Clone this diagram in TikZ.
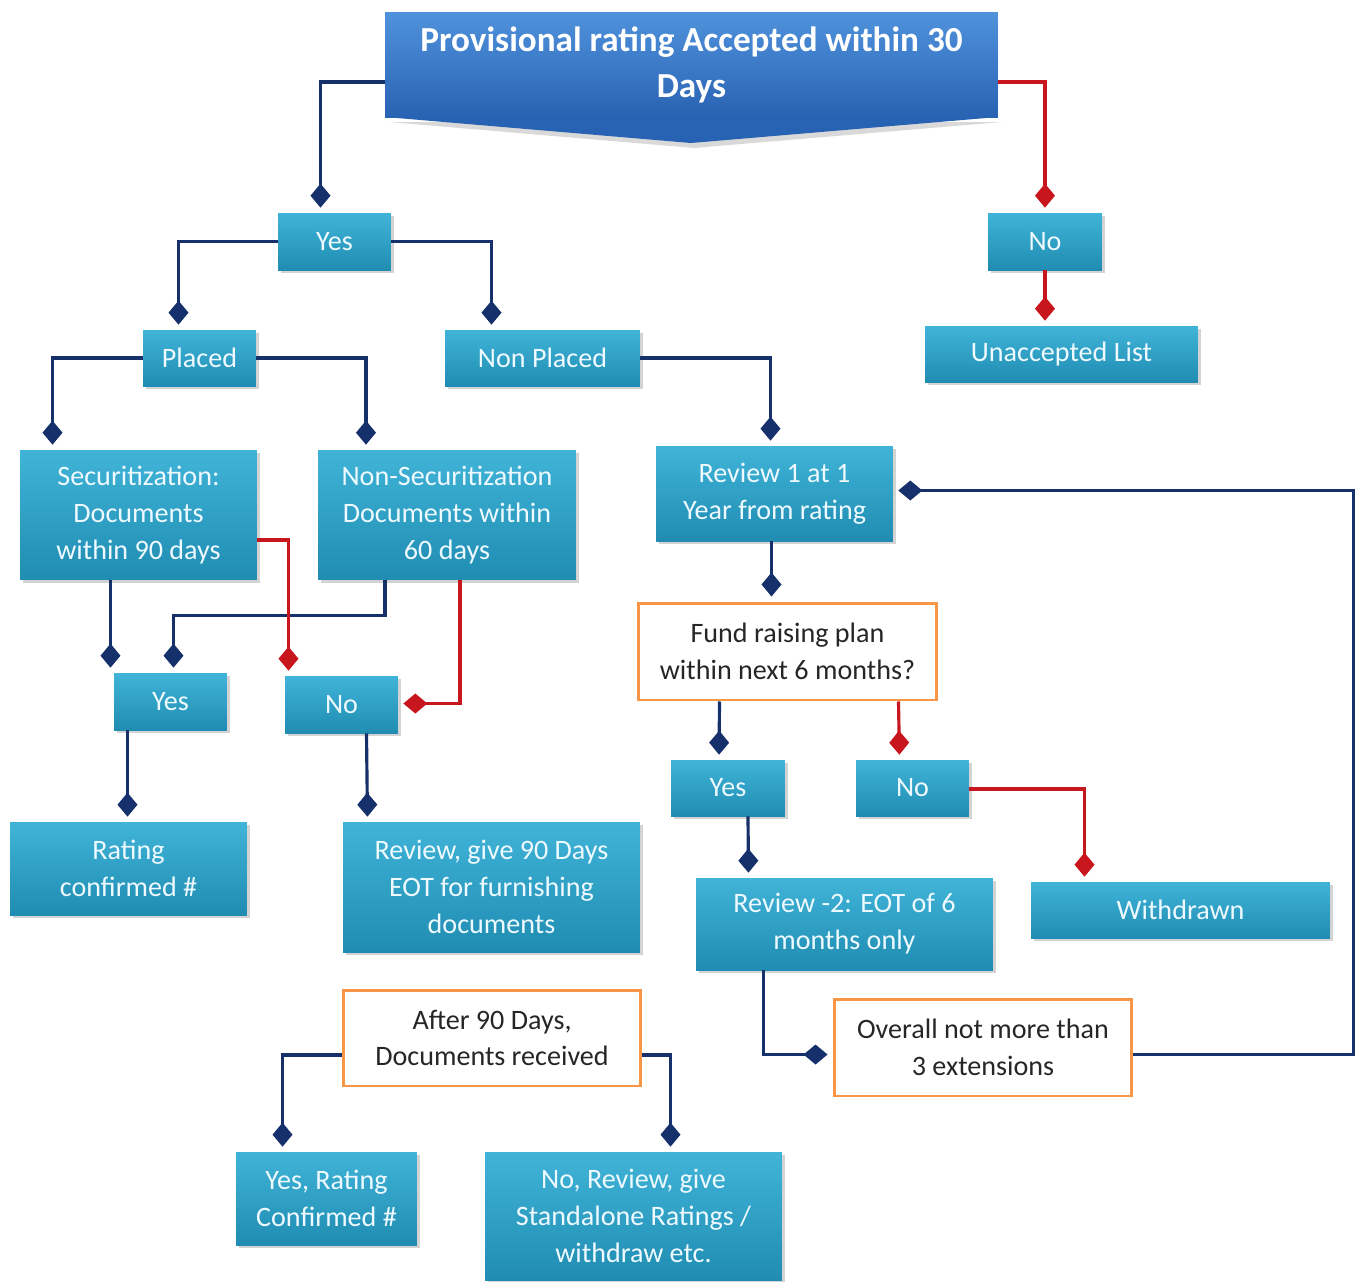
\documentclass[tikz,border=0pt]{standalone}
\usepackage{fontspec}
\setmainfont{Carlito}
\usetikzlibrary{calc, arrows.meta, shadows}

\definecolor{tealtop}{RGB}{64,180,216}
\definecolor{tealbot}{RGB}{32,140,178}
\definecolor{titletop}{RGB}{80,146,220}
\definecolor{titlebot}{RGB}{40,98,178}
\definecolor{navyline}{RGB}{22,48,108}
\definecolor{redline}{RGB}{200,22,30}
\definecolor{boxorange}{RGB}{247,150,70}
\definecolor{boxtext}{RGB}{238,250,255}

\begin{document}
\begin{tikzpicture}[
    x=0.02cm, y=-0.02cm,
    % Estilos de nodos
    step box/.style={rectangle, inner sep=0pt, align=center, text=boxtext,
        shading=axis, top color=tealtop, bottom color=tealbot,
        drop shadow={shadow xshift=0.06cm, shadow yshift=-0.06cm, opacity=0.35},
        font=\fontsize{16}{21}\selectfont},
    question box/.style={rectangle, inner sep=0pt, align=center, fill=white,
        draw=boxorange, line width=1.7pt, text=black!85,
        font=\fontsize{16}{21}\selectfont},
    title box/.style={rectangle, inner sep=0pt, align=center, text=white,
        shading=axis, top color=titletop, bottom color=titlebot,
        font=\fontsize{20}{26}\selectfont\bfseries},
    % Estilos de conectores
    navy link/.style={line width=1.8pt, navyline,
        -{Turned Square[length=0.48cm, width=0.4cm]}, shorten >=0.1cm},
    red link/.style={line width=1.8pt, redline,
        -{Turned Square[length=0.48cm, width=0.4cm]}, shorten >=0.1cm}
]
    \useasboundingbox (0,0) rectangle (1360,1282);

    % =========================================================================
    % 1. Titulo
    % =========================================================================
    \fill[black, opacity=0.15] (389,122) -- (694,148) -- (1002,122) -- cycle;
    \fill[titlebot] (385,117) -- (691,143) -- (998,117) -- cycle;
    \node[title box, minimum width=12.26cm, minimum height=2.12cm] (title) at (691.5,65)
        {Provisional rating Accepted within 30\\Days};

    % =========================================================================
    % 2. Nodos
    % =========================================================================
    \node[step box, minimum width=2.26cm, minimum height=1.14cm] (yes1) at (334.5,241.5) {Yes};
    \node[step box, minimum width=2.28cm, minimum height=1.14cm] (no1) at (1045,241.5) {No};
    \node[step box, minimum width=5.46cm, minimum height=1.12cm] (unacc) at (1061.5,354) {Unaccepted List};

    \node[step box, minimum width=2.26cm, minimum height=1.12cm] (placed) at (199.5,358) {Placed};
    \node[step box, minimum width=3.9cm, minimum height=1.12cm] (nonpl) at (542.5,358) {Non Placed};

    \node[step box, minimum width=4.74cm, minimum height=2.6cm] (secur) at (138.5,515)
        {Securitization:\\Documents\\within 90 days};
    \node[step box, minimum width=5.16cm, minimum height=2.6cm] (nonsec) at (447,515)
        {Non-Securitization\\Documents within\\60 days};
    \node[step box, minimum width=4.74cm, minimum height=1.9cm] (rev1) at (774.5,493.5)
        {Review 1 at 1\\Year from rating};

    \node[question box, minimum width=5.98cm, minimum height=1.94cm] (fund) at (787.5,651.5)
        {Fund raising plan\\within next 6 months?};
    \node[step box, minimum width=2.28cm, minimum height=1.12cm] (yes2) at (728,788) {Yes};
    \node[step box, minimum width=2.26cm, minimum height=1.12cm] (no2) at (912.5,788) {No};
    \node[step box, minimum width=5.98cm, minimum height=1.12cm] (withdr) at (1180.5,910) {Withdrawn};
    \node[step box, minimum width=5.94cm, minimum height=1.84cm] (rev2) at (844.5,924)
        {Review -2: EOT of 6\\months only};
    \node[question box, minimum width=5.96cm, minimum height=1.94cm] (overall) at (983,1047.5)
        {Overall not more than\\3 extensions};

    \node[step box, minimum width=2.26cm, minimum height=1.14cm] (yes3) at (170.5,701.5) {Yes};
    \node[step box, minimum width=2.26cm, minimum height=1.14cm] (no3) at (341.5,704.5) {No};
    \node[step box, minimum width=4.74cm, minimum height=1.86cm] (rating) at (128.5,868.5)
        {Rating\\confirmed \#};
    \node[step box, minimum width=5.94cm, minimum height=2.6cm] (rev90) at (491.5,887)
        {Review, give 90 Days\\EOT for furnishing\\documents};

    \node[question box, minimum width=5.96cm, minimum height=1.92cm] (after) at (492,1038)
        {After 90 Days,\\Documents received};
    \node[step box, minimum width=3.62cm, minimum height=1.86cm] (yesrc) at (326.5,1198.5)
        {Yes, Rating\\Confirmed \#};
    \node[step box, minimum width=5.94cm, minimum height=2.56cm] (norev) at (633.5,1216)
        {No, Review, give\\Standalone Ratings /\\withdraw etc.};

    % =========================================================================
    % 3. Conectores
    % =========================================================================
    \draw[navy link] ($(title.west)+(0,17)$) -| ($(yes1.north)+(-14,0)$);
    \draw[red link] ($(title.east)+(0,17)$) -| (no1.north);
    \draw[red link] (no1.south) -- (no1.south |- unacc.north);

    \draw[navy link] (yes1.west) -| ($(placed.north)+(-21,0)$);
    \draw[navy link] (yes1.east) -| ($(nonpl.north)+(-51,0)$);
    \draw[navy link] (placed.west) -| ($(secur.north)+(-86,0)$);
    \draw[navy link] (placed.east) -| ($(nonsec.north)+(-81,0)$);
    \draw[navy link] (nonpl.east) -| ($(rev1.north)+(-4,0)$);

    \draw[navy link] ($(rev1.south)+(-3,0)$) -- ($(fund.north)+(-16,0)$);
    \draw[navy link] ($(fund.south)+(-68,0)$) -- ($(yes2.north)+(-9,0)$);
    \draw[red link] ($(fund.south)+(111,0)$) -- ($(no2.north)+(-13,0)$);
    \draw[red link] ($(no2.east)+(0,1)$) -| ($(withdr.north)+(-96,0)$);
    \draw[navy link] ($(yes2.south)+(20,0)$) -- ($(rev2.north)+(-96,0)$);
    \draw[navy link] ($(rev2.south)+(-81,0)$) |- ($(overall.west)+(0,7)$);
    \draw[navy link] ($(overall.east)+(0,7)$) -- ++(220,0) |- ($(rev1.east)+(0,-3)$);

    \draw[navy link] ($(secur.south)+(-28,0)$) -- ($(yes3.north)+(-60,0)$);
    \draw[navy link] ($(nonsec.south)+(-62,0)$) -- ++(0,35) -| ($(yes3.north)+(3,0)$);
    \draw[red link] ($(secur.east)+(0,25)$) -| ($(no3.north)+(-53,0)$);
    \draw[red link] ($(nonsec.south)+(13,0)$) |- ($(no3.east)+(0,-1)$);
    \draw[navy link] ($(yes3.south)+(-43,0)$) -- ($(rating.north)+(-1,0)$);
    \draw[navy link] ($(no3.south)+(25,0)$) -- ($(rev90.north)+(-124,0)$);

    \draw[navy link] ($(after.west)+(0,17)$) -| ($(yesrc.north)+(-44,0)$);
    \draw[navy link] ($(after.east)+(0,17)$) -| ($(norev.north)+(37,0)$);
\end{tikzpicture}
\end{document}
